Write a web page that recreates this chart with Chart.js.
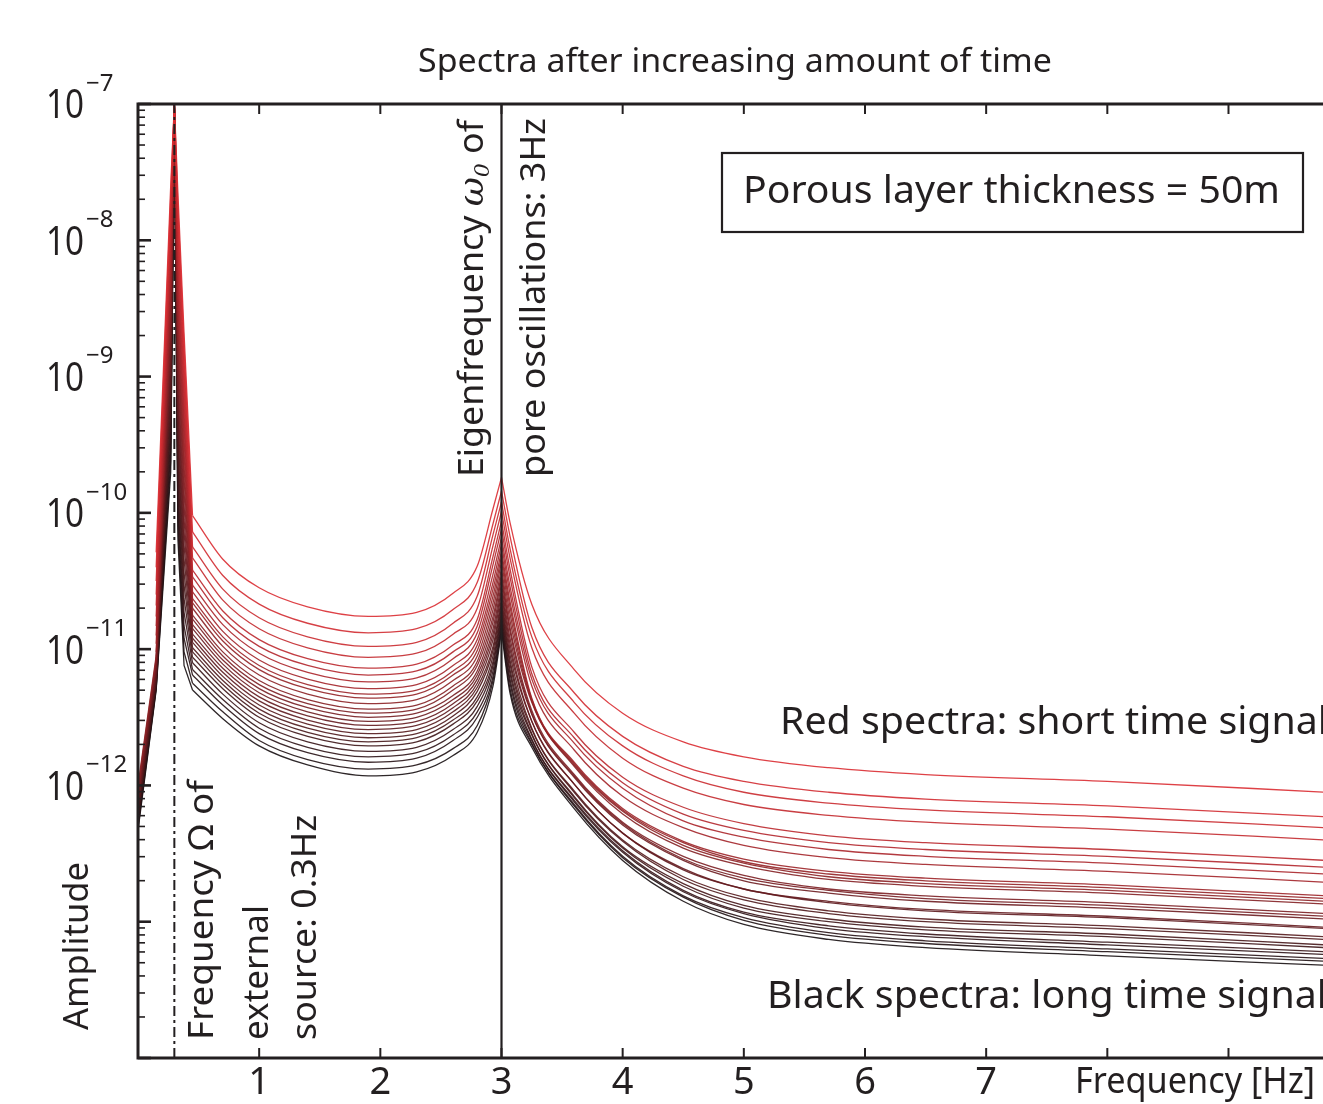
<!DOCTYPE html>
<html>
<head>
<meta charset="utf-8">
<title>Spectra after increasing amount of time</title>
<script src="https://cdn.jsdelivr.net/npm/chart.js@4.4.1/dist/chart.umd.min.js"></script>
<style>
  html, body { margin: 0; padding: 0; background: #fff; overflow: hidden; }
  #wrap { width: 1323px; height: 1104px; position: relative; }
</style>
</head>
<body>
<div id="wrap"><canvas id="spec"></canvas></div>
<script>
// frequency samples (Hz) shared by every spectrum
const freqHz = [0, 0.15, 0.27, 0.3, 0.33, 0.38, 0.45, 0.7, 1.0, 1.4, 1.9, 2.3, 2.6, 2.8, 2.93, 3.0, 3.07, 3.25, 3.6, 4.0, 4.5, 5.0, 5.7, 6.5, 8.0, 9.8];

// spectra, log10(amplitude); sp01 = shortest signal (red) ... sp26 = longest (black)
const sp01 = [null,-10.29,-7.60,-7.00,-7.67,-8.68,-10.02,-10.34,-10.55,-10.69,-10.76,-10.73,-10.59,-10.39,-9.97,-9.74,-10.07,-10.67,-11.15,-11.47,-11.68,-11.79,-11.87,-11.92,-11.97,-12.05];
const sp02 = [null,-10.40,-7.68,-7.00,-7.77,-8.78,-10.14,-10.46,-10.67,-10.81,-10.88,-10.85,-10.71,-10.51,-10.08,-9.84,-10.17,-10.84,-11.32,-11.64,-11.86,-11.97,-12.05,-12.10,-12.15,-12.23];
const sp03 = [null,-10.50,-7.77,-7.00,-7.87,-8.88,-10.25,-10.56,-10.77,-10.91,-10.98,-10.95,-10.81,-10.61,-10.16,-9.92,-10.26,-10.91,-11.39,-11.71,-11.93,-12.05,-12.13,-12.18,-12.23,-12.31];
const sp04 = [null,-10.60,-7.85,-7.00,-7.97,-8.97,-10.33,-10.64,-10.85,-10.99,-11.06,-11.03,-10.89,-10.70,-10.24,-9.99,-10.33,-10.99,-11.47,-11.80,-12.02,-12.14,-12.22,-12.27,-12.32,-12.40];
const sp05 = [null,-10.68,-7.94,-7.00,-8.07,-9.07,-10.42,-10.72,-10.93,-11.07,-11.14,-11.11,-10.97,-10.78,-10.32,-10.06,-10.41,-11.13,-11.61,-11.94,-12.16,-12.28,-12.37,-12.42,-12.47,-12.55];
const sp06 = [null,-10.76,-8.02,-7.00,-8.18,-9.17,-10.47,-10.77,-10.98,-11.12,-11.19,-11.16,-11.02,-10.83,-10.38,-10.12,-10.47,-11.18,-11.65,-11.98,-12.21,-12.33,-12.42,-12.47,-12.52,-12.60];
const sp07 = [null,-10.83,-8.10,-7.00,-8.28,-9.27,-10.53,-10.82,-11.03,-11.17,-11.24,-11.21,-11.07,-10.88,-10.45,-10.18,-10.54,-11.22,-11.69,-12.02,-12.26,-12.38,-12.47,-12.52,-12.57,-12.65];
const sp08 = [null,-10.90,-8.19,-7.00,-8.38,-9.36,-10.58,-10.87,-11.08,-11.22,-11.29,-11.26,-11.12,-10.93,-10.51,-10.23,-10.59,-11.27,-11.74,-12.08,-12.31,-12.44,-12.53,-12.58,-12.63,-12.71];
const sp09 = [null,-10.96,-8.27,-7.00,-8.48,-9.46,-10.63,-10.91,-11.12,-11.26,-11.33,-11.30,-11.16,-10.97,-10.56,-10.28,-10.65,-11.36,-11.83,-12.17,-12.41,-12.54,-12.63,-12.68,-12.73,-12.81];
const sp10 = [null,-11.02,-8.36,-7.00,-8.58,-9.56,-10.66,-10.94,-11.15,-11.29,-11.36,-11.33,-11.19,-11.01,-10.61,-10.32,-10.69,-11.37,-11.84,-12.18,-12.42,-12.56,-12.65,-12.70,-12.75,-12.83];
const sp11 = [-12.00,-11.05,-8.44,-7.00,-8.68,-9.66,-10.70,-10.98,-11.19,-11.33,-11.40,-11.37,-11.23,-11.05,-10.66,-10.36,-10.74,-11.38,-11.85,-12.19,-12.44,-12.57,-12.67,-12.72,-12.77,-12.85];
const sp12 = [-12.02,-11.07,-8.52,-7.00,-8.78,-9.75,-10.75,-11.02,-11.23,-11.37,-11.44,-11.41,-11.27,-11.09,-10.71,-10.41,-10.79,-11.39,-11.86,-12.21,-12.46,-12.59,-12.69,-12.74,-12.79,-12.87];
const sp13 = [-12.04,-11.09,-8.61,-7.01,-8.88,-9.85,-10.78,-11.05,-11.26,-11.40,-11.47,-11.44,-11.30,-11.12,-10.76,-10.45,-10.84,-11.45,-11.92,-12.27,-12.52,-12.66,-12.76,-12.81,-12.86,-12.94];
const sp14 = [-12.07,-11.11,-8.69,-7.01,-8.99,-9.95,-10.82,-11.08,-11.29,-11.43,-11.50,-11.47,-11.34,-11.16,-10.80,-10.48,-10.87,-11.47,-11.93,-12.28,-12.54,-12.68,-12.77,-12.83,-12.88,-12.96];
const sp15 = [-12.09,-11.13,-8.78,-7.01,-9.09,-10.05,-10.85,-11.11,-11.32,-11.46,-11.53,-11.50,-11.37,-11.19,-10.85,-10.52,-10.92,-11.48,-11.94,-12.29,-12.55,-12.70,-12.79,-12.85,-12.90,-12.98];
const sp16 = [-12.11,-11.15,-8.86,-7.01,-9.19,-10.14,-10.89,-11.14,-11.35,-11.49,-11.56,-11.53,-11.40,-11.22,-10.89,-10.56,-10.96,-11.53,-11.99,-12.35,-12.61,-12.76,-12.85,-12.91,-12.96,-13.04];
const sp17 = [-12.13,-11.17,-8.94,-7.01,-9.29,-10.24,-10.92,-11.17,-11.38,-11.52,-11.59,-11.56,-11.43,-11.25,-10.93,-10.59,-11.00,-11.53,-11.99,-12.35,-12.62,-12.76,-12.86,-12.92,-12.97,-13.05];
const sp18 = [-12.15,-11.19,-9.03,-7.02,-9.39,-10.34,-10.95,-11.20,-11.41,-11.55,-11.62,-11.59,-11.46,-11.28,-10.98,-10.63,-11.04,-11.58,-12.04,-12.40,-12.67,-12.82,-12.92,-12.98,-13.03,-13.11];
const sp19 = [-12.18,-11.21,-9.11,-7.02,-9.49,-10.44,-10.99,-11.23,-11.44,-11.58,-11.65,-11.62,-11.49,-11.31,-11.01,-10.66,-11.08,-11.59,-12.05,-12.41,-12.69,-12.84,-12.94,-13.00,-13.05,-13.13];
const sp20 = [-12.20,-11.22,-9.20,-7.02,-9.59,-10.53,-11.02,-11.26,-11.47,-11.61,-11.68,-11.65,-11.52,-11.35,-11.05,-10.69,-11.11,-11.62,-12.08,-12.45,-12.72,-12.88,-12.98,-13.04,-13.09,-13.17];
const sp21 = [-12.22,-11.24,-9.28,-7.02,-9.69,-10.63,-11.06,-11.29,-11.50,-11.64,-11.71,-11.68,-11.55,-11.38,-11.09,-10.72,-11.15,-11.63,-12.09,-12.46,-12.74,-12.90,-13.00,-13.06,-13.11,-13.19];
const sp22 = [-12.24,-11.25,-9.36,-7.03,-9.80,-10.73,-11.10,-11.33,-11.54,-11.68,-11.75,-11.72,-11.59,-11.42,-11.12,-10.75,-11.18,-11.66,-12.11,-12.48,-12.77,-12.93,-13.03,-13.09,-13.15,-13.22];
const sp23 = [-12.26,-11.27,-9.45,-7.03,-9.90,-10.83,-11.15,-11.37,-11.58,-11.72,-11.79,-11.76,-11.63,-11.46,-11.16,-10.78,-11.22,-11.67,-12.12,-12.49,-12.78,-12.94,-13.05,-13.11,-13.17,-13.24];
const sp24 = [-12.29,-11.28,-9.53,-7.03,-10.00,-10.92,-11.19,-11.41,-11.62,-11.76,-11.83,-11.80,-11.67,-11.50,-11.20,-10.81,-11.25,-11.69,-12.14,-12.52,-12.81,-12.97,-13.08,-13.14,-13.20,-13.27];
const sp25 = [-12.31,-11.29,-9.62,-7.03,-10.10,-11.02,-11.25,-11.46,-11.67,-11.81,-11.88,-11.85,-11.73,-11.56,-11.23,-10.84,-11.29,-11.70,-12.15,-12.53,-12.82,-12.99,-13.10,-13.16,-13.22,-13.29];
const sp26 = [-12.33,-11.30,-9.70,-7.03,-10.20,-11.12,-11.30,-11.51,-11.71,-11.85,-11.93,-11.90,-11.78,-11.61,-11.27,-10.87,-11.32,-11.72,-12.17,-12.55,-12.85,-13.02,-13.13,-13.19,-13.25,-13.32];

const spectra = [sp01, sp02, sp03, sp04, sp05, sp06, sp07, sp08, sp09, sp10, sp11, sp12, sp13,
                 sp14, sp15, sp16, sp17, sp18, sp19, sp20, sp21, sp22, sp23, sp24, sp25, sp26];

// axis ticks
const xTicks = [1, 2, 3, 4, 5, 6, 7, 8, 9];
const xTickLabels = ['1', '2', '3', '4', '5', '6', '7'];
const yTickExp = [-7, -8, -9, -10, -11, -12];
const yDecades = [-14, -13, -12, -11, -10, -9, -8, -7];

// marked frequencies
const sourceFreq = 0.3;
const eigenFreq = 3;

const INK = '#231f20';
const SANS = '"Noto Sans", "Open Sans", sans-serif';
const SERIF = '"DejaVu Serif", "Liberation Serif", serif';

// red (short signal) fading to black (long signal)
function lineColor(t) {
  const r = Math.round(218 - 195 * t);
  const g = Math.round(44 - 28 * t);
  const b = Math.round(50 - 32 * t);
  return 'rgba(' + r + ',' + g + ',' + b + ',0.9)';
}

// each spectrum is drawn in three pieces so the sharp corners at the peaks stay sharp:
// straight segments round the 0.3 Hz peak, smooth curves in the trough and in the tail
const pieces = [[0, 6, false], [6, 15, true], [15, 25, true]];
const datasets = [];
spectra.forEach((vals, i) => {
  const col = lineColor(i / (spectra.length - 1));
  pieces.forEach(([from, to, smooth]) => {
    const pts = [];
    for (let j = from; j <= to; j++) {
      if (vals[j] != null) pts.push({ x: freqHz[j], y: Math.pow(10, vals[j]) });
    }
    datasets.push({
      data: pts,
      borderColor: col,
      borderWidth: 1.3,
      pointRadius: 0,
      tension: 0,
      cubicInterpolationMode: smooth ? 'monotone' : 'default',
      fill: false
    });
  });
});

// horizontal text squeezed/stretched to a given width
function fitText(ctx, str, x, y, size, width, align) {
  ctx.save();
  ctx.font = size + 'px ' + SANS;
  const w = ctx.measureText(str).width;
  const k = width ? width / w : 1;
  ctx.translate(x, y);
  ctx.scale(k, 1);
  ctx.textAlign = align || 'left';
  ctx.textBaseline = 'middle';
  ctx.fillStyle = INK;
  ctx.fillText(str, 0, 0);
  ctx.restore();
}

// vertical text reading bottom to top; parts = [[text, font, dy], ...]
function upText(ctx, parts, x, y, length) {
  ctx.save();
  let total = 0;
  parts.forEach(p => { ctx.font = p[1]; total += ctx.measureText(p[0]).width; });
  ctx.translate(x, y);
  ctx.rotate(-Math.PI / 2);
  ctx.scale(length / total, 1);
  ctx.textAlign = 'left';
  ctx.textBaseline = 'alphabetic';
  ctx.fillStyle = INK;
  let cx = 0;
  parts.forEach(p => {
    ctx.font = p[1];
    ctx.fillText(p[0], cx, p[2] || 0);
    cx += ctx.measureText(p[0]).width;
  });
  ctx.restore();
}

const deco = {
  id: 'deco',
  afterDatasetsDraw(chart) {
    const ctx = chart.ctx, a = chart.chartArea;
    const xs = chart.scales.x;
    ctx.save();
    ctx.strokeStyle = INK;
    // source frequency: dash-dot
    ctx.lineWidth = 2;
    ctx.setLineDash([10, 4, 3, 4]);
    let px = xs.getPixelForValue(sourceFreq);
    ctx.beginPath(); ctx.moveTo(px, a.bottom); ctx.lineTo(px, a.top); ctx.stroke();
    // eigenfrequency: solid
    ctx.setLineDash([]);
    ctx.lineWidth = 2.2;
    px = xs.getPixelForValue(eigenFreq);
    ctx.beginPath(); ctx.moveTo(px, a.top); ctx.lineTo(px, a.bottom); ctx.stroke();
    ctx.restore();
  },
  afterDraw(chart) {
    const ctx = chart.ctx, a = chart.chartArea;
    const xs = chart.scales.x, ys = chart.scales.y;
    ctx.save();
    ctx.strokeStyle = INK;
    ctx.lineCap = 'butt';
    // frame (right side lies off the picture)
    ctx.lineWidth = 3;
    ctx.beginPath();
    ctx.moveTo(a.right + 2, a.top); ctx.lineTo(a.left, a.top);
    ctx.lineTo(a.left, a.bottom); ctx.lineTo(a.right + 2, a.bottom);
    ctx.stroke();
    // y ticks, inward
    yDecades.forEach(d => {
      const py = ys.getPixelForValue(Math.pow(10, d));
      ctx.lineWidth = 2.6;
      ctx.beginPath(); ctx.moveTo(a.left, py); ctx.lineTo(a.left + 13, py); ctx.stroke();
      if (d < -7) {
        ctx.lineWidth = 1.6;
        for (let m = 2; m <= 9; m++) {
          const pm = ys.getPixelForValue(m * Math.pow(10, d));
          ctx.beginPath(); ctx.moveTo(a.left, pm); ctx.lineTo(a.left + 7, pm); ctx.stroke();
        }
      }
    });
    // x ticks, inward top and bottom
    ctx.lineWidth = 2;
    xTicks.forEach(v => {
      const px = xs.getPixelForValue(v);
      ctx.beginPath(); ctx.moveTo(px, a.bottom); ctx.lineTo(px, a.bottom - 10); ctx.stroke();
      ctx.beginPath(); ctx.moveTo(px, a.top); ctx.lineTo(px, a.top + 10); ctx.stroke();
    });
    ctx.restore();

    // y tick labels 10^n
    yTickExp.forEach(e => {
      const py = ys.getPixelForValue(Math.pow(10, e));
      fitText(ctx, '10', 84, py + 3, 40, 38, 'right');
      const ex = '\u2212' + Math.abs(e);
      ctx.save();
      ctx.font = '24px ' + SANS;
      ctx.fillStyle = INK;
      ctx.textAlign = 'left';
      ctx.textBaseline = 'middle';
      ctx.fillText(ex, 86, py - 20);
      ctx.restore();
    });
    // x tick labels
    xTickLabels.forEach((lab, i) => {
      fitText(ctx, lab, xs.getPixelForValue(xTicks[i]), 1083, 38, null, 'center');
    });
    fitText(ctx, 'Frequency [Hz]', 1075, 1083, 36, 240, 'left');

    // title, box, notes
    fitText(ctx, 'Spectra after increasing amount of time', 735, 63, 32, 634, 'center');
    ctx.save();
    ctx.strokeStyle = INK; ctx.lineWidth = 2.2;
    ctx.strokeRect(722, 153, 581, 79);
    ctx.restore();
    fitText(ctx, 'Porous layer thickness = 50m', 743, 192, 38, 537, 'left');
    fitText(ctx, 'Red spectra: short time signal', 780, 723, 38, 548, 'left');
    fitText(ctx, 'Black spectra: long time signal', 767, 997, 38, 560, 'left');

    // rotated labels
    const f34 = '34px ' + SANS;
    upText(ctx, [['Amplitude', f34]], 88, 1030, 168);
    upText(ctx, [['Frequency \u03A9 of', f34]], 213, 1040, 260);
    upText(ctx, [['external', f34]], 268, 1040, 135);
    upText(ctx, [['source: 0.3Hz', f34]], 316, 1040, 225);
    upText(ctx, [['Eigenfrequency ', f34], ['\u03C9', 'italic 34px ' + SERIF], ['0', 'italic 21px ' + SERIF, 6], [' of', f34]], 483, 477, 357);
    upText(ctx, [['pore oscillations: 3Hz', f34]], 545, 477, 359);
  }
};

new Chart(document.getElementById('spec').getContext('2d'), {
  type: 'line',
  data: { datasets: datasets },
  options: {
    animation: false,
    responsive: true,
    maintainAspectRatio: false,
    layout: { padding: { left: 138, top: 104, right: 0, bottom: 46 } },
    plugins: { legend: { display: false }, tooltip: { enabled: false } },
    scales: {
      x: { type: 'linear', min: 0, max: 9.78, display: false },
      y: { type: 'logarithmic', min: 1e-14, max: 1e-7, display: false }
    }
  },
  plugins: [deco]
});
</script>
</body>
</html>
